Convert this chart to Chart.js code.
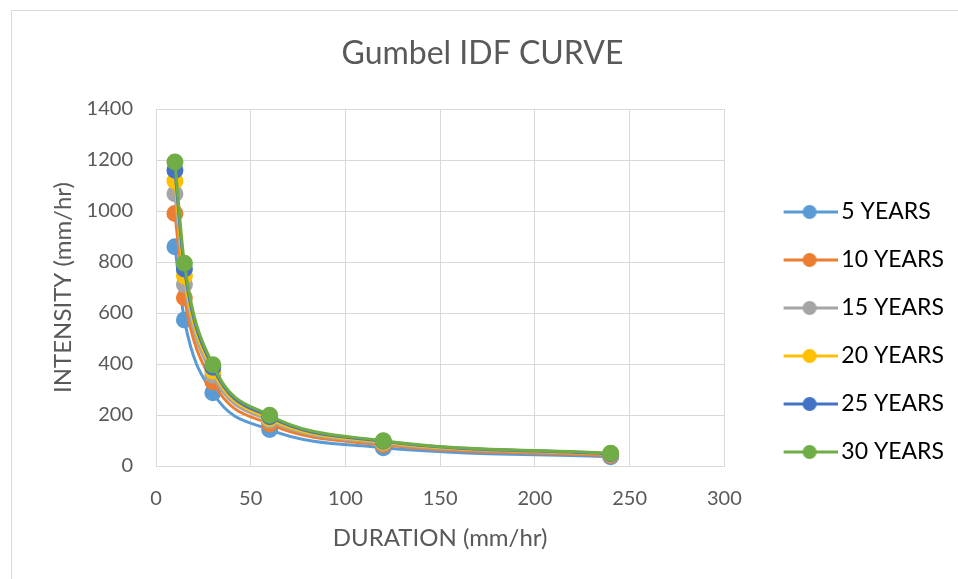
<!DOCTYPE html>
<html>
<head>
<meta charset="utf-8">
<script src="https://cdn.jsdelivr.net/npm/chart.js@4.4.1/dist/chart.umd.min.js"></script>
<style>
  html, body { margin: 0; padding: 0; background: #ffffff; }
  #wrap { width: 958px; height: 579px; position: relative; }
</style>
</head>
<body>
<div id="wrap"><canvas id="c" width="958" height="579"></canvas></div>
<script>
// ---- Data ----
const durations = [10, 15, 30, 60, 120, 240];
const seriesNames = ['5 YEARS', '10 YEARS', '15 YEARS', '20 YEARS', '25 YEARS', '30 YEARS'];
const y5  = [860, 573, 287, 143, 72, 36];
const y10 = [990, 660, 330, 165, 83, 41];
const y15 = [1068, 712, 356, 178, 89, 45];
const y20 = [1118, 745, 373, 186, 93, 47];
const y25 = [1160, 773, 387, 193, 97, 48];
const y30 = [1192, 795, 397, 199, 99, 50];
const seriesValues = [y5, y10, y15, y20, y25, y30];
const xTicks = [0, 50, 100, 150, 200, 250, 300];
const yTicks = [0, 200, 400, 600, 800, 1000, 1200, 1400];

const colors = ['#5B9BD5', '#ED7D31', '#A5A5A5', '#FFC000', '#4472C4', '#70AD47'];
const FONT = 'Lato, Carlito, Calibri, sans-serif';
const TXT = '#595959';

// legend marker: line with a dot, placed in the right part of a wider transparent image
function legendMarker(color) {
  const cv = document.createElement('canvas');
  cv.width = 96; cv.height = 16;
  const g = cv.getContext('2d');
  g.strokeStyle = color; g.lineWidth = 3;
  g.beginPath(); g.moveTo(42, 8); g.lineTo(96, 8); g.stroke();
  g.fillStyle = color;
  g.beginPath(); g.arc(68, 8, 7, 0, Math.PI * 2); g.fill();
  return cv;
}
const markers = colors.map(legendMarker);

const datasets = seriesNames.map((name, i) => ({
  label: name,
  data: durations.map((d, j) => ({ x: d, y: seriesValues[i][j] })),
  borderColor: colors[i],
  backgroundColor: colors[i],
  pointBackgroundColor: colors[i],
  pointBorderColor: colors[i],
  borderWidth: 3,
  pointRadius: 7,
  pointHoverRadius: 7,
  showLine: true,
  cubicInterpolationMode: 'monotone',
  order: seriesNames.length - i
}));

const borderPlugin = {
  id: 'outerBorder',
  beforeDraw(chart) {
    const ctx = chart.ctx;
    ctx.save();
    ctx.fillStyle = '#ffffff';
    ctx.fillRect(0, 0, chart.width, chart.height);
    ctx.strokeStyle = '#d9d9d9';
    ctx.lineWidth = 1;
    ctx.strokeRect(11.5, 10.5, chart.width + 20, chart.height + 20);
    ctx.restore();
  }
};

new Chart(document.getElementById('c'), {
  type: 'scatter',
  data: { datasets },
  plugins: [borderPlugin],
  options: {
    responsive: false,
    animation: false,
    layout: { padding: { left: 11, right: 4, top: 14, bottom: 10 } },
    plugins: {
      title: {
        display: true,
        text: 'Gumbel IDF CURVE',
        color: TXT,
        font: { family: FONT, size: 32, weight: 'normal' },
        padding: { top: 20.8, bottom: 35.8 }
      },
      legend: {
        position: 'right',
        align: 'start',
        sort: (a, b) => a.datasetIndex - b.datasetIndex,
        title: { display: true, text: ' ', font: { size: 10 }, padding: { top: 149.5, bottom: 0 } },
        labels: {
          usePointStyle: true,
          pointStyleWidth: 80.5,
          padding: 25,
          color: '#000000',
          font: { family: FONT, size: 23 },
          generateLabels(chart) {
            return chart.data.datasets.map((ds, i) => ({
              text: ds.label,
              fillStyle: colors[i],
              strokeStyle: colors[i],
              lineWidth: 0,
              pointStyle: markers[i],
              hidden: false,
              datasetIndex: i,
              fontColor: '#000000'
            }));
          }
        }
      },
      tooltip: { enabled: false }
    },
    scales: {
      x: {
        type: 'linear',
        min: 0, max: 300,
        afterBuildTicks(scale) { scale.ticks = xTicks.map(v => ({ value: v })); },
        afterFit(scale) { scale.height = 579 - 10 - 466; },
        grid: { color: '#d9d9d9', drawTicks: false },
        border: { color: '#d9d9d9' },
        ticks: { color: TXT, font: { family: FONT, size: 20 }, padding: 21, callback: v => String(v) },
        title: {
          display: true, text: 'DURATION (mm/hr)', color: TXT,
          font: { family: FONT, size: 24 }, padding: { top: 0, bottom: 16.6 }
        }
      },
      y: {
        type: 'linear',
        min: 0, max: 1400,
        afterBuildTicks(scale) { scale.ticks = yTicks.map(v => ({ value: v })); },
        afterFit(scale) { scale.width = 156 - 11; },
        grid: { color: '#d9d9d9', drawTicks: false },
        border: { color: '#d9d9d9' },
        ticks: { color: TXT, font: { family: FONT, size: 20 }, padding: 23, callback: v => String(v) },
        title: {
          display: true, text: 'INTENSITY (mm/hr)', color: TXT,
          font: { family: FONT, size: 24 }, padding: { top: 37.6, bottom: 0 }
        }
      }
    }
  }
});
</script>
</body>
</html>
